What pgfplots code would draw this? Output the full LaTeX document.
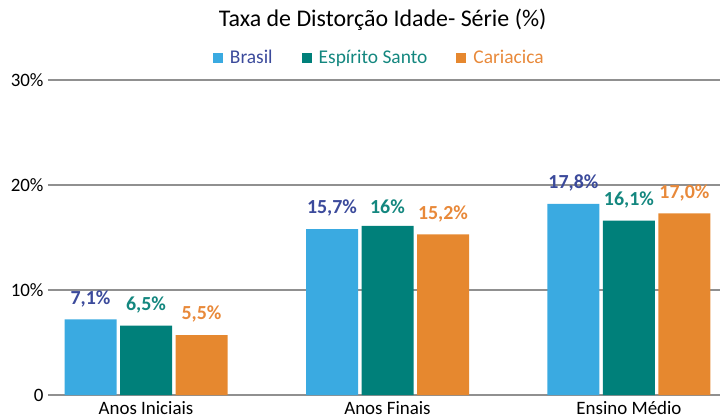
\documentclass[border=0pt]{standalone}
\usepackage{pgfplots}
\pgfplotsset{compat=1.18}
\usepackage{fontspec}
\setmainfont{Carlito}
\definecolor{bblue}{HTML}{3AAAE1}
\definecolor{bteal}{HTML}{00807A}
\definecolor{borange}{HTML}{E6882F}
\definecolor{lblue}{HTML}{3B4A9B}
\definecolor{lteal}{HTML}{14877F}
\definecolor{lorange}{HTML}{E8893A}
\definecolor{gridgray}{HTML}{909090}

\begin{document}
\begin{tikzpicture}
\useasboundingbox (-48bp,-25bp) rectangle (672bp,395bp);
\begin{axis}[
    scale only axis,
    width=672bp,
    height=315bp,
    xmin=-0.406, xmax=2.377,
    ymin=0, ymax=30,
    axis line style={draw=none},
    ybar=3.5bp,
    bar width=52bp,
    ytick={0,10,20,30},
    yticklabels={0,10\%,20\%,30\%},
    ymajorgrids,
    grid style={gridgray, line width=1.5bp},
    xtick={0,1,2},
    xticklabels={Anos Iniciais,Anos Finais,Ensino Médio},
    major tick length=0pt,
    tick label style={font=\fontsize{19}{21}\selectfont},
    /pgf/number format/assume math mode=true,
    yticklabel style={anchor=east, xshift=-1bp},
    xticklabel style={anchor=north, yshift=-3bp},
    title={Taxa de Distorção Idade- Série (\%)},
    title style={at={(0.498,1.172)}, anchor=center, font=\fontsize{24}{26}\selectfont},
    legend style={at={(0.493,1.07)}, anchor=center, draw=none, fill=none,
        legend columns=3, font=\fontsize{19.5}{21}\selectfont,
        /tikz/every odd column/.append style={column sep=5bp},
        /tikz/every even column/.append style={column sep=27bp}},
    legend image code/.code={\fill[#1] (0bp,-5bp) rectangle (10bp,5bp);},
    nodes near coords,
    point meta=explicit symbolic,
    every node near coord/.append style={font=\bfseries\fontsize{20}{22}\selectfont, yshift=9bp},
    clip=false,
]
\addplot[fill=bblue, draw=none, every node near coord/.append style={text=lblue}]
coordinates {(0,7.2) [{7,1\%}] (1,15.8) [{15,7\%}] (2,18.2) [{17,8\%}]};
\addlegendentry{\textcolor{lblue}{Brasil}}
\addplot[fill=bteal, draw=none, every node near coord/.append style={text=lteal}]
coordinates {(0,6.6) [{6,5\%}] (1,16.1) [{16\%}] (2,16.6) [{16,1\%}]};
\addlegendentry{\textcolor{lteal}{Espírito Santo}}
\addplot[fill=borange, draw=none, every node near coord/.append style={text=lorange}]
coordinates {(0,5.7) [{5,5\%}] (1,15.3) [{15,2\%}] (2,17.3) [{17,0\%}]};
\addlegendentry{\textcolor{lorange}{Cariacica}}
\end{axis}
\end{tikzpicture}
\end{document}
